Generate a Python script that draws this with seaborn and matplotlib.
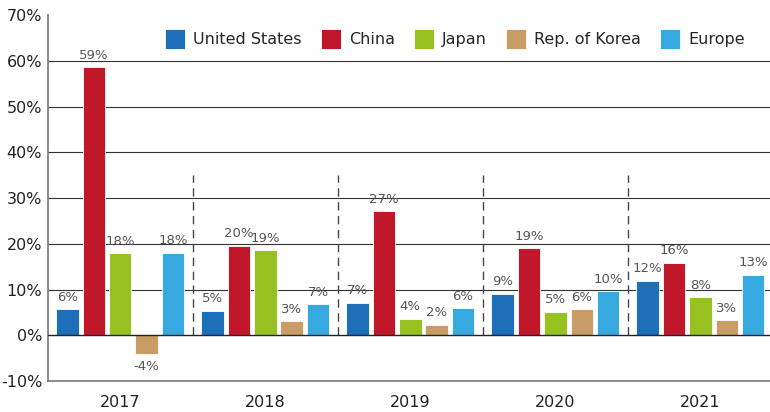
import matplotlib
matplotlib.use("Agg")
import matplotlib.pyplot as plt
import seaborn as sns
import pandas as pd

years = ["2017", "2018", "2019", "2020", "2021"]
regions = ["United States", "China", "Japan", "Rep. of Korea", "Europe"]
united_states = [5.7, 5.3, 7.1, 9.1, 11.9]
china = [58.6, 19.6, 27.1, 19.0, 15.8]
japan = [17.9, 18.6, 3.6, 5.1, 8.3]
korea = [-4.1, 3.1, 2.3, 5.7, 3.3]
europe = [18.0, 6.8, 5.9, 9.6, 13.2]
colors = ["#1C6FB8", "#C0182A", "#97C021", "#C99C66", "#36A9E1"]

series = [united_states, china, japan, korea, europe]
rows = []
for reg, vals in zip(regions, series):
    for y, v in zip(years, vals):
        rows.append({"year": y, "region": reg, "value": v})
df = pd.DataFrame(rows)

sns.set_theme(style="white")
plt.rcParams["font.family"] = ["DejaVu Sans"]

fig = plt.figure(figsize=(7.7, 4.12), dpi=100)
ax = fig.add_axes([0.062, 0.0752, 0.938, 0.8884])

sns.barplot(data=df, x="year", y="value", hue="region", order=years,
            hue_order=regions, palette=colors, width=0.91, gap=0.15,
            ax=ax, errorbar=None, saturation=1, edgecolor="white", linewidth=0.6)

for cont in ax.containers:
    ax.bar_label(cont, fmt="{:.0f}%", padding=4, fontsize=9.5, color="#555555")

ax.set_ylim(-10, 70)
ax.set_xlim(-0.5, 4.48)
ax.set_yticks(range(-10, 71, 10))
ax.set_yticklabels([f"{t}%" for t in range(-10, 71, 10)], fontsize=11.5, color="#222222")
ax.tick_params(axis="x", labelsize=11.5, colors="#222222", length=0, pad=10)
ax.tick_params(axis="y", length=0, pad=4)
ax.set_xlabel("")
ax.set_ylabel("")

for t in range(10, 70, 10):
    ax.axhline(t, color="#333333", lw=0.8, zorder=0)
ax.axhline(0, color="#222222", lw=1.0, zorder=3)

ax.vlines([0.5, 1.5, 2.5, 3.5], 0, 35, colors="#444444", linestyles=(0, (6, 4)), lw=1.0)

for side in ["top", "right"]:
    ax.spines[side].set_visible(False)
for side in ["left", "bottom"]:
    ax.spines[side].set_color("#777777")
    ax.spines[side].set_linewidth(1.2)

leg = ax.legend(loc="upper right", bbox_to_anchor=(0.985, 1.0), ncol=5, frameon=False,
                fontsize=11.5, handlelength=1.25, handleheight=1.5, columnspacing=1.2,
                handletextpad=0.5)

fig.savefig("out.png", dpi=100)
